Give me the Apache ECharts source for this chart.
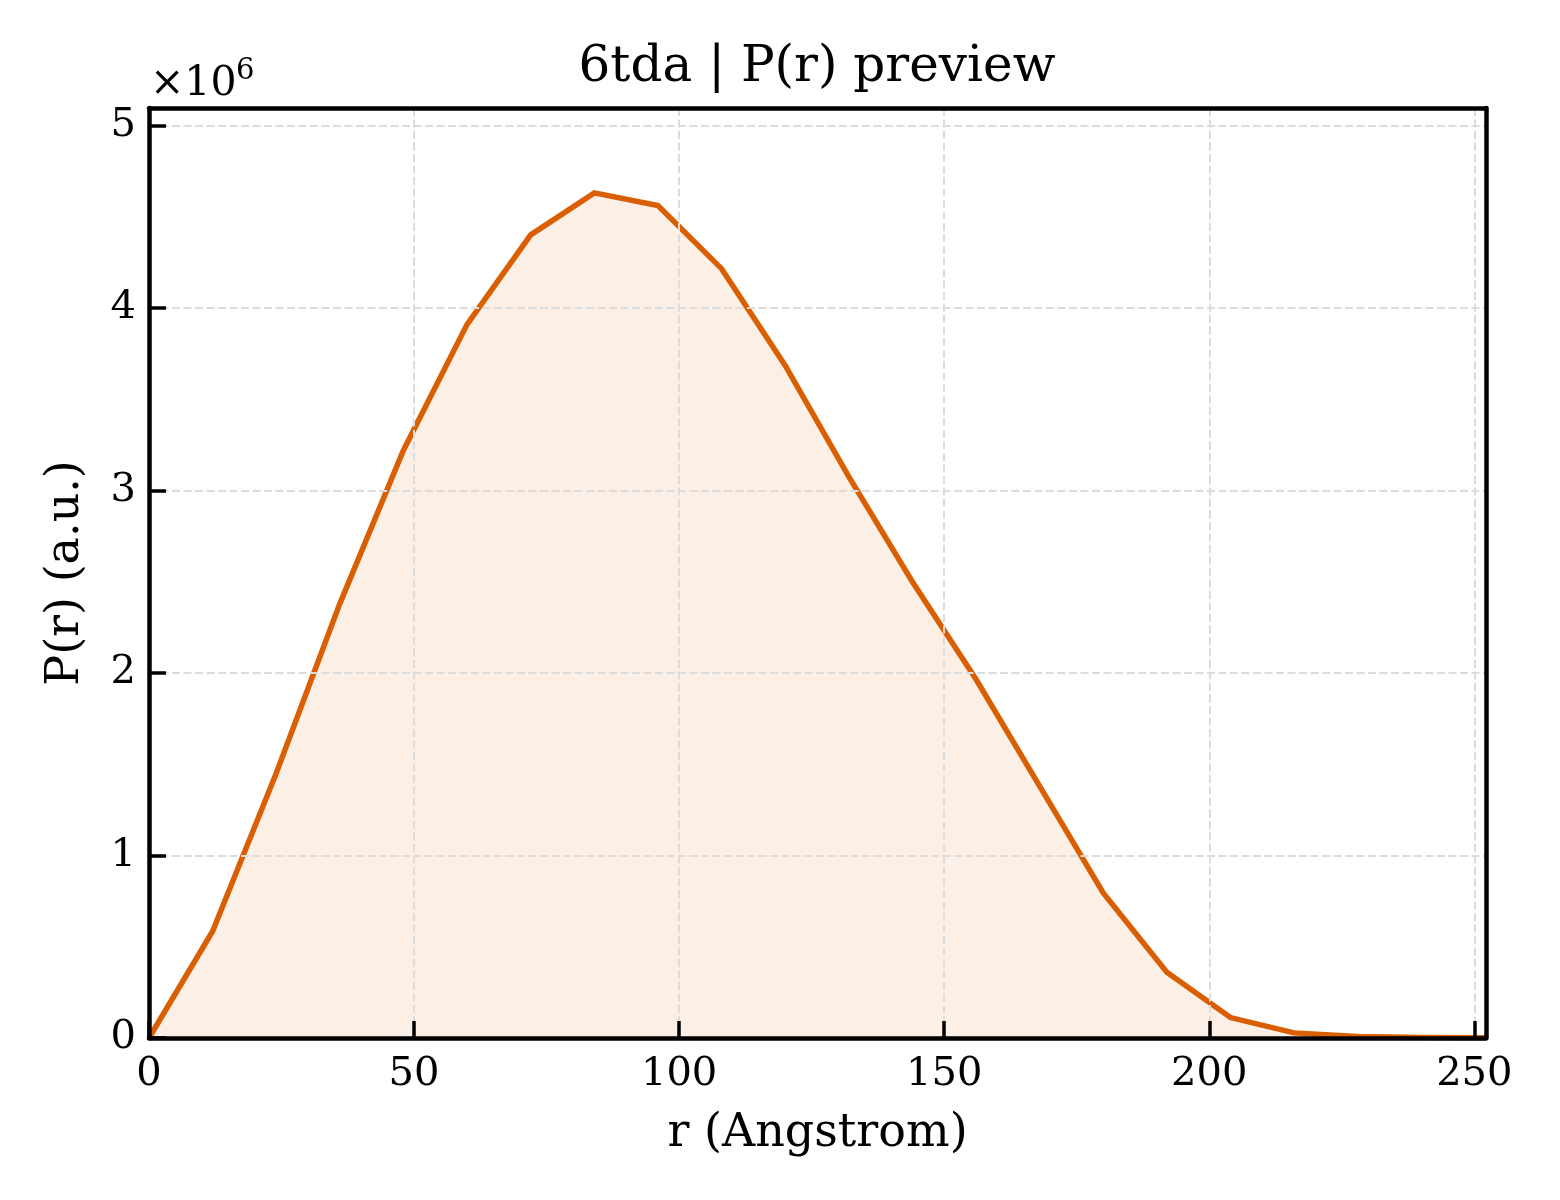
<!DOCTYPE html>
<html>
<head>
<meta charset="utf-8">
<script src="https://cdn.jsdelivr.net/npm/echarts@6.0.0/dist/echarts.min.js"></script>
<style>
  html, body { margin: 0; padding: 0; background: #fff; }
  #pr_chart { width: 1560px; height: 1200px; }
</style>
</head>
<body>
<div id="pr_chart"></div>
<script>
// r grid (Angstrom) and P(r)
var r_vals = [0, 12, 24, 36, 48, 60, 72, 84, 96, 108, 120, 132, 144, 156, 168, 180, 192, 204, 216, 228, 240, 252];
var p_vals = [0, 585000, 1450000, 2380000, 3220000, 3910000, 4400000, 4630000, 4560000, 4215000, 3685000,
              3075000, 2500000, 1965000, 1380000, 795000, 360000, 112000, 28000, 8000, 3000, 1000];
var x_ticks = [0, 50, 100, 150, 200, 250];
var y_ticks = [0, 1, 2, 3, 4, 5];   // in units of 1e6

var FONT = 'DejaVu Serif';
var LINE_COLOR = '#d95f02';
var X_MAX = 252.2;
var Y_MAX = 5095000;

var myPrChart = echarts.init(document.getElementById('pr_chart'));

showPrChart()

function showPrChart(){
	var option = getPrOption()
	myPrChart.setOption(option);
}

// plain frame axis for the top / right spines
function spineAxis(kind, pos){
	var ax = {
		type: 'value',
		position: pos,
		min: 0,
		max: kind == 'x' ? X_MAX : Y_MAX,
		z: 5,
		axisLine: { show: true, onZero: false, lineStyle: { color: '#000', width: 4.5 } },
		axisTick: { show: false },
		axisLabel: { show: false },
		splitLine: { show: false }
	}
	return ax
}

function getPrOption(){
	var seriesData = r_vals.map(function (r, i) { return [r, p_vals[i]]; });
	var gridLine = { show: true, lineStyle: { color: '#dcdcdc', width: 2, type: [8, 3.5] } };
	var option = {
		backgroundColor: '#fff',
		animation: false,
		grid: {
			left: 149,
			right: 74,
			top: 108,
			bottom: 162
		},
		graphic: [
			{
				type: 'text',
				x: 817,
				y: 68,
				style: {
					text: '6tda | P(r) preview',
					font: '50px "' + FONT + '"',
					fill: '#000',
					align: 'center',
					verticalAlign: 'middle'
				}
			},
			{
				type: 'text',
				x: 150,
				y: 84,
				style: {
					text: '×10',
					font: '41px "' + FONT + '"',
					fill: '#000',
					align: 'left',
					verticalAlign: 'middle'
				}
			},
			{
				type: 'text',
				x: 236,
				y: 71,
				style: {
					text: '6',
					font: '29px "' + FONT + '"',
					fill: '#000',
					align: 'left',
					verticalAlign: 'middle'
				}
			}
		],
		xAxis: [
			{
				type: 'value',
				position: 'bottom',
				min: 0,
				max: X_MAX,
				interval: 50,
				z: 5,
				name: 'r (Angstrom)',
				nameLocation: 'middle',
				nameGap: 73,
				nameTextStyle: { fontFamily: FONT, fontSize: 46, color: '#000' },
				axisLine: { show: true, onZero: false, lineStyle: { color: '#000', width: 4.5 } },
				axisTick: { show: true, inside: true, length: 17, lineStyle: { color: '#000', width: 3.5 } },
				axisLabel: {
					fontFamily: FONT, fontSize: 40, color: '#000', margin: 17,
					showMaxLabel: false,
					formatter: function (v) { return x_ticks.indexOf(v) >= 0 ? String(v) : ''; }
				},
				splitLine: gridLine
			},
			spineAxis('x', 'top')
		],
		yAxis: [
			{
				type: 'value',
				position: 'left',
				min: 0,
				max: Y_MAX,
				interval: 1000000,
				z: 5,
				name: 'P(r) (a.u.)',
				nameLocation: 'middle',
				nameGap: 60,
				nameRotate: 90,
				nameTextStyle: { fontFamily: FONT, fontSize: 46, color: '#000' },
				axisLine: { show: true, onZero: false, lineStyle: { color: '#000', width: 4.5 } },
				axisTick: { show: true, inside: true, length: 17, lineStyle: { color: '#000', width: 3.5 } },
				axisLabel: {
					fontFamily: FONT, fontSize: 40, color: '#000', margin: 13,
					showMaxLabel: false,
					formatter: function (v) {
						var m = Math.round(v / 1e6);
						return (y_ticks.indexOf(m) >= 0 && Math.abs(v - m * 1e6) < 1) ? String(m) : '';
					}
				},
				splitLine: gridLine
			},
			spineAxis('y', 'right')
		],
		series: [
			{
				name: 'P(r)',
				type: 'line',
				xAxisIndex: 0,
				yAxisIndex: 0,
				data: seriesData,
				symbol: 'none',
				smooth: false,
				z: 3,
				lineStyle: { color: LINE_COLOR, width: 5.5, join: 'miter' },
				itemStyle: { color: LINE_COLOR },
				areaStyle: { color: 'rgba(217, 95, 2, 0.14)', origin: 'start' }
			}
		]
	}
	return option
}
</script>
</body>
</html>
